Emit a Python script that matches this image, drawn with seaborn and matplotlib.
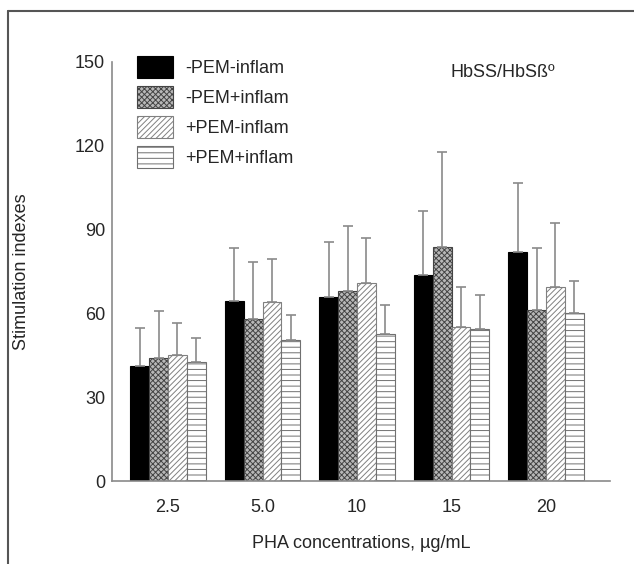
import numpy as np
import pandas as pd
import seaborn as sns
import matplotlib.pyplot as plt
from matplotlib.lines import Line2D

concentrations = ["2.5", "5.0", "10", "15", "20"]
groups = ["-PEM-inflam", "-PEM+inflam", "+PEM-inflam", "+PEM+inflam"]

# mean stimulation indexes per group
mean_neg_neg = [41.2, 64.5, 65.7, 73.8, 82.1]
mean_neg_pos = [44.0, 58.1, 68.1, 83.7, 61.3]
mean_pos_neg = [45.0, 64.2, 71.0, 55.1, 69.3]
mean_pos_pos = [42.7, 50.4, 52.7, 54.4, 60.0]

# upper error (SD)
sd_neg_neg = [13.6, 19.0, 20.0, 22.9, 24.6]
sd_neg_pos = [16.7, 20.2, 23.1, 34.2, 22.0]
sd_pos_neg = [11.4, 15.3, 16.1, 14.5, 23.0]
sd_pos_pos = [8.4, 9.0, 10.2, 12.1, 11.5]

means = [mean_neg_neg, mean_neg_pos, mean_pos_neg, mean_pos_pos]
sds = [sd_neg_neg, sd_neg_pos, sd_pos_neg, sd_pos_pos]

df = pd.DataFrame({
    "conc": concentrations * len(groups),
    "value": sum(means, []),
    "group": [g for g in groups for _ in concentrations],
})

sns.set_style("white")
plt.rcParams["font.family"] = ["Liberation Sans", "DejaVu Sans"]
plt.rcParams["hatch.linewidth"] = 0.7

fig = plt.figure(figsize=(6.34, 5.64), dpi=100)
ax = fig.add_axes([112 / 634, 83 / 564, 498 / 634, 419 / 564])

sns.barplot(data=df, x="conc", y="value", hue="group", order=concentrations,
            hue_order=groups, errorbar=None, width=0.8, legend=False,
            palette=["black"] * 4, ax=ax)

styles = [
    dict(face="black", edge="black", hatch=None),
    dict(face="#b8b8b8", edge="#444444", hatch="xxxxxx"),
    dict(face="white", edge="#808080", hatch="//////"),
    dict(face="white", edge="#707070", hatch="---"),
]
gray = "#8a8a8a"
bar_conts = list(ax.containers)
for cont, st, sd in zip(bar_conts, styles, sds):
    for bar in cont:
        bar.set_facecolor(st["face"])
        bar.set_edgecolor(st["edge"])
        bar.set_linewidth(0.8)
        if st["hatch"]:
            bar.set_hatch(st["hatch"])
    xs = [b.get_x() + b.get_width() / 2 for b in cont]
    ys = [b.get_height() for b in cont]
    ax.errorbar(xs, ys, yerr=[np.zeros(len(sd)), sd], fmt="none",
                ecolor=gray, elinewidth=1.2, capsize=3.5, capthick=1.2, zorder=1)

ax.set_ylim(0, 150)
ax.set_xlim(-0.593, 4.677)
ax.set_yticks([0, 30, 60, 90, 120, 150])
sns.despine(ax=ax)
for s in ["left", "bottom"]:
    ax.spines[s].set_color(gray)
    ax.spines[s].set_linewidth(1.2)
ax.tick_params(axis="y", direction="in", length=4, color=gray, labelsize=13, pad=5)
ax.tick_params(axis="x", length=0, labelsize=13, pad=13)

ax.set_xlabel("PHA concentrations, µg/mL", fontsize=13, labelpad=14)
ax.set_ylabel("Stimulation indexes", fontsize=13)
ax.yaxis.set_label_coords(-0.165, 0.5)

ax.legend(bar_conts, groups, loc="upper left",
          bbox_to_anchor=(137 / 634, 1 - 56 / 564), bbox_transform=fig.transFigure,
          frameon=False, fontsize=13, borderpad=0, borderaxespad=0,
          handlelength=2.0, handleheight=1.5, labelspacing=0.45, handletextpad=0.65)

fig.text(451 / 634, 1 - 73 / 564, "HbSS/HbSßº", fontsize=13, va="center", ha="left")

# outer frame
fig.add_artist(Line2D([8 / 634, 1], [1 - 11 / 564] * 2, transform=fig.transFigure,
                      color="#555555", lw=1.5))
fig.add_artist(Line2D([8 / 634] * 2, [0, 1 - 11 / 564], transform=fig.transFigure,
                      color="#555555", lw=1.5))

fig.savefig("out.png", dpi=100)
